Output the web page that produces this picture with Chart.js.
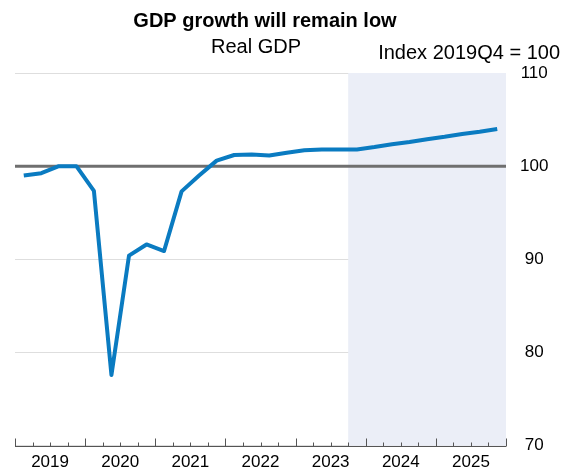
<!DOCTYPE html>
<html lang="en">
<head>
<meta charset="UTF-8">
<title>GDP growth will remain low</title>
<script src="https://cdn.jsdelivr.net/npm/chart.js"></script>
<style>
  * { margin: 0; padding: 0; box-sizing: border-box; }
  body { background: white; }
  canvas { display: block; }
</style>
</head>
<body>
<canvas id="grafico" width="563" height="470"></canvas>
<script>
// dados (índice 2019Q4 = 100)
const trimestres = [
  '2019Q1','2019Q2','2019Q3','2019Q4','2020Q1','2020Q2','2020Q3','2020Q4',
  '2021Q1','2021Q2','2021Q3','2021Q4','2022Q1','2022Q2','2022Q3','2022Q4',
  '2023Q1','2023Q2','2023Q3','2023Q4','2024Q1','2024Q2','2024Q3','2024Q4',
  '2025Q1','2025Q2','2025Q3','2025Q4'
];
const pibReal = [
  99.0, 99.25, 100.0, 100.0, 97.35, 77.6, 90.4, 91.6,
  90.9, 97.3, 99.0, 100.6, 101.2, 101.25, 101.15, 101.45,
  101.7, 101.8, 101.8, 101.8, 102.05, 102.35, 102.6, 102.9,
  103.15, 103.45, 103.7, 104.0
];
const anos = ['2019', '2020', '2021', '2022', '2023', '2024', '2025'];
const ticksY = [70, 80, 90, 100, 110];
const inicioProjecao = '2023Q4';
const linhaBase = 100;

const FONTE = "'Liberation Sans', Arial, sans-serif";
Chart.defaults.font.family = FONTE;
Chart.defaults.color = '#000';

const desenhos = {
  id: 'desenhos',
  beforeDatasetsDraw(chart) {
    const { ctx, chartArea: a, scales: { x, y } } = chart;
    // área sombreada da projeção
    const x0 = x.getPixelForValue(trimestres.indexOf(inicioProjecao));
    ctx.save();
    ctx.fillStyle = '#ebeef7';
    ctx.fillRect(x0, a.top, a.right - x0, a.bottom - a.top);
    // linha do 100
    const yb = y.getPixelForValue(linhaBase);
    ctx.strokeStyle = '#6f6f6f';
    ctx.lineWidth = 3;
    ctx.beginPath();
    ctx.moveTo(a.left, yb);
    ctx.lineTo(a.right, yb);
    ctx.stroke();
    ctx.restore();
  },
  afterDatasetsDraw(chart) {
    const { ctx, chartArea: a, scales: { x } } = chart;
    const yb = Math.round(a.bottom) + 0.5;
    ctx.save();
    ctx.strokeStyle = '#555';
    ctx.lineWidth = 1;
    ctx.beginPath();
    ctx.moveTo(a.left, yb);
    ctx.lineTo(a.right, yb);
    // marcas trimestrais, maiores na virada do ano
    for (let i = 0; i <= trimestres.length; i++) {
      const px = Math.round(x.getPixelForValue(i)) + 0.5;
      const h = i % 4 === 0 ? 8 : 4;
      ctx.moveTo(px, yb);
      ctx.lineTo(px, yb - h);
    }
    ctx.stroke();
    ctx.restore();
  },
  afterDraw(chart) {
    const { ctx } = chart;
    ctx.save();
    ctx.fillStyle = '#000';
    ctx.textBaseline = 'middle';
    ctx.textAlign = 'center';
    ctx.font = 'bold 20px ' + FONTE;
    ctx.fillText('GDP growth will remain low', 265, 21);
    ctx.font = '20px ' + FONTE;
    ctx.fillText('Real GDP', 256, 47);
    ctx.textAlign = 'right';
    ctx.fillText('Index 2019Q4 = 100', 560, 53);
    ctx.restore();
  }
};

new Chart(document.getElementById('grafico'), {
  type: 'line',
  data: {
    datasets: [{
      label: 'Real GDP',
      data: pibReal.map((v, i) => ({ x: i + 0.5, y: v })),
      borderColor: '#0a7bc1',
      borderWidth: 4,
      borderJoinStyle: 'round',
      pointRadius: 0,
      tension: 0,
      fill: false,
    }]
  },
  options: {
    responsive: false,
    animation: false,
    layout: { padding: { top: 73, left: 15, right: 0, bottom: 0 } },
    plugins: { legend: { display: false }, tooltip: { enabled: false } },
    scales: {
      x: {
        type: 'linear',
        min: 0,
        max: trimestres.length,
        grid: { display: false, drawTicks: false },
        border: { display: false },
        afterBuildTicks: s => { s.ticks = anos.map((_, k) => ({ value: k * 4 + 2 })); },
        afterFit: s => { s.height = 24; },
        ticks: {
          autoSkip: false,
          maxRotation: 0,
          padding: 6,
          font: { size: 17 },
          callback: v => anos[(v - 2) / 4],
        },
      },
      y: {
        position: 'right',
        min: ticksY[0],
        max: ticksY[ticksY.length - 1],
        afterBuildTicks: s => { s.ticks = ticksY.map(v => ({ value: v })); },
        afterFit: s => { s.width = 57; },
        grid: { color: '#dedede', lineWidth: 1, drawTicks: false },
        border: { display: false },
        ticks: {
          padding: 14,
          crossAlign: 'center',
          font: { size: 17 },
        },
      },
    },
  },
  plugins: [desenhos],
});
</script>
</body>
</html>
